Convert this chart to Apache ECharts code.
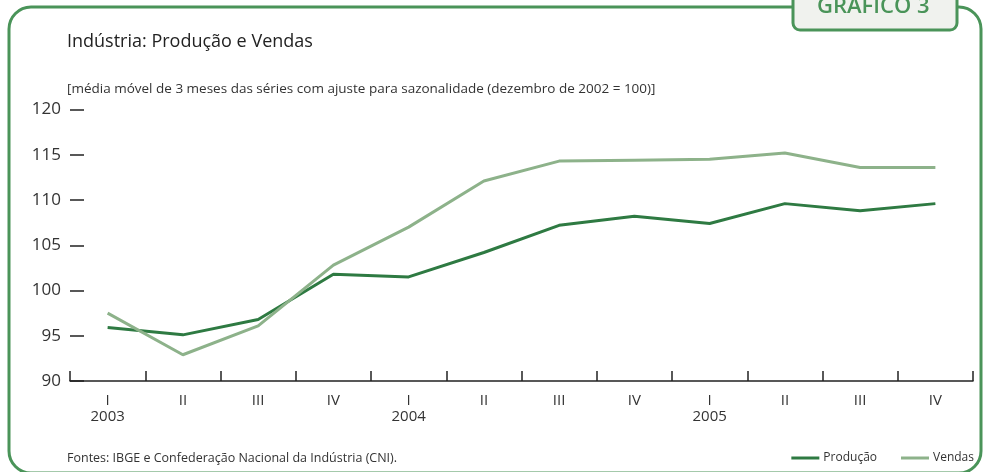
<!DOCTYPE html>
<html>
<head>
<meta charset="utf-8">
<script src="https://cdn.jsdelivr.net/npm/echarts@6/dist/echarts.min.js"></script>
<style>
  html, body { margin: 0; padding: 0; background: #fff; }
  #chart { width: 984px; height: 472px; }
</style>
</head>
<body>
<div id="chart"></div>
<script>
  // dados
  var quarters = ['I', 'II', 'III', 'IV', 'I', 'II', 'III', 'IV', 'I', 'II', 'III', 'IV'];
  var years = ['2003', '', '', '', '2004', '', '', '', '2005', '', '', ''];
  var producao = [95.9, 95.1, 96.8, 101.8, 101.5, 104.2, 107.2, 108.2, 107.4, 109.6, 108.8, 109.6];
  var vendas = [97.5, 92.9, 96.1, 102.8, 107.0, 112.1, 114.3, 114.4, 114.5, 115.2, 113.6, 113.6];
  var yTicks = [90, 95, 100, 105, 110, 115, 120];

  var green = '#4a9459';
  var fontFam = '"Open Sans", "Noto Sans", sans-serif';

  var categories = quarters.map(function (q, i) {
    return years[i] ? q + '\n' + years[i] : q;
  });

  var chart = echarts.init(document.getElementById('chart'));

  var option = {
    animation: false,
    textStyle: { fontFamily: fontFam },
    grid: { left: 70, right: 11, top: 109.5, bottom: 91 },
    graphic: [
      {
        type: 'rect',
        shape: { x: 9, y: 7, width: 972, height: 466, r: 22 },
        style: { fill: 'none', stroke: green, lineWidth: 3 }
      },
      {
        type: 'rect',
        shape: { x: 793, y: -14, width: 164, height: 44, r: 7 },
        style: { fill: '#f0f2ee', stroke: green, lineWidth: 3 }
      },
      {
        type: 'text', left: 817, top: -4,
        style: { text: 'GRÁFICO 3', fill: green, font: '600 22px ' + fontFam }
      },
      {
        type: 'text', left: 67, top: 33,
        style: { text: 'Indústria: Produção e Vendas', fill: '#222', font: '18px ' + fontFam }
      },
      {
        type: 'text', left: 67, top: 82,
        style: { text: '[média móvel de 3 meses das séries com ajuste para sazonalidade (dezembro de 2002 = 100)]', fill: '#333', font: '13.5px ' + fontFam }
      },
      {
        type: 'text', left: 67, top: 452,
        style: { text: 'Fontes: IBGE e Confederação Nacional da Indústria (CNI).', fill: '#333', font: '12.5px ' + fontFam }
      }
    ],
    legend: {
      right: 5,
      bottom: 3,
      itemWidth: 28,
      itemHeight: 3,
      itemGap: 24,
      icon: 'rect',
      textStyle: { fontSize: 12, color: '#333', padding: [0, 0, 0, -1] },
      data: ['Produção', 'Vendas']
    },
    xAxis: {
      type: 'category',
      data: categories,
      boundaryGap: true,
      axisLine: { lineStyle: { color: '#222', width: 1.5 } },
      axisTick: { show: true, interval: 0, inside: true, length: 10, lineStyle: { color: '#222', width: 1.5 } },
      axisLabel: { color: '#333', fontSize: 15, lineHeight: 16, margin: 12, interval: 0 }
    },
    yAxis: {
      type: 'value',
      min: 90,
      max: 120,
      interval: 5,
      splitLine: { show: false },
      axisLine: { show: false },
      axisTick: { show: true, inside: true, length: 14, lineStyle: { color: '#222', width: 1.5 } },
      axisLabel: {
        color: '#333', fontSize: 17, margin: 9,
        formatter: function (v) { return yTicks.indexOf(v) >= 0 ? String(v) : ''; }
      }
    },
    series: [
      {
        name: 'Produção',
        type: 'line',
        data: producao,
        symbol: 'none',
        itemStyle: { color: '#2e7a42' },
        lineStyle: { color: '#2e7a42', width: 3 }
      },
      {
        name: 'Vendas',
        type: 'line',
        data: vendas,
        symbol: 'none',
        itemStyle: { color: '#8db28a' },
        lineStyle: { color: '#8db28a', width: 3 }
      }
    ]
  };

  chart.setOption(option);
</script>
</body>
</html>
